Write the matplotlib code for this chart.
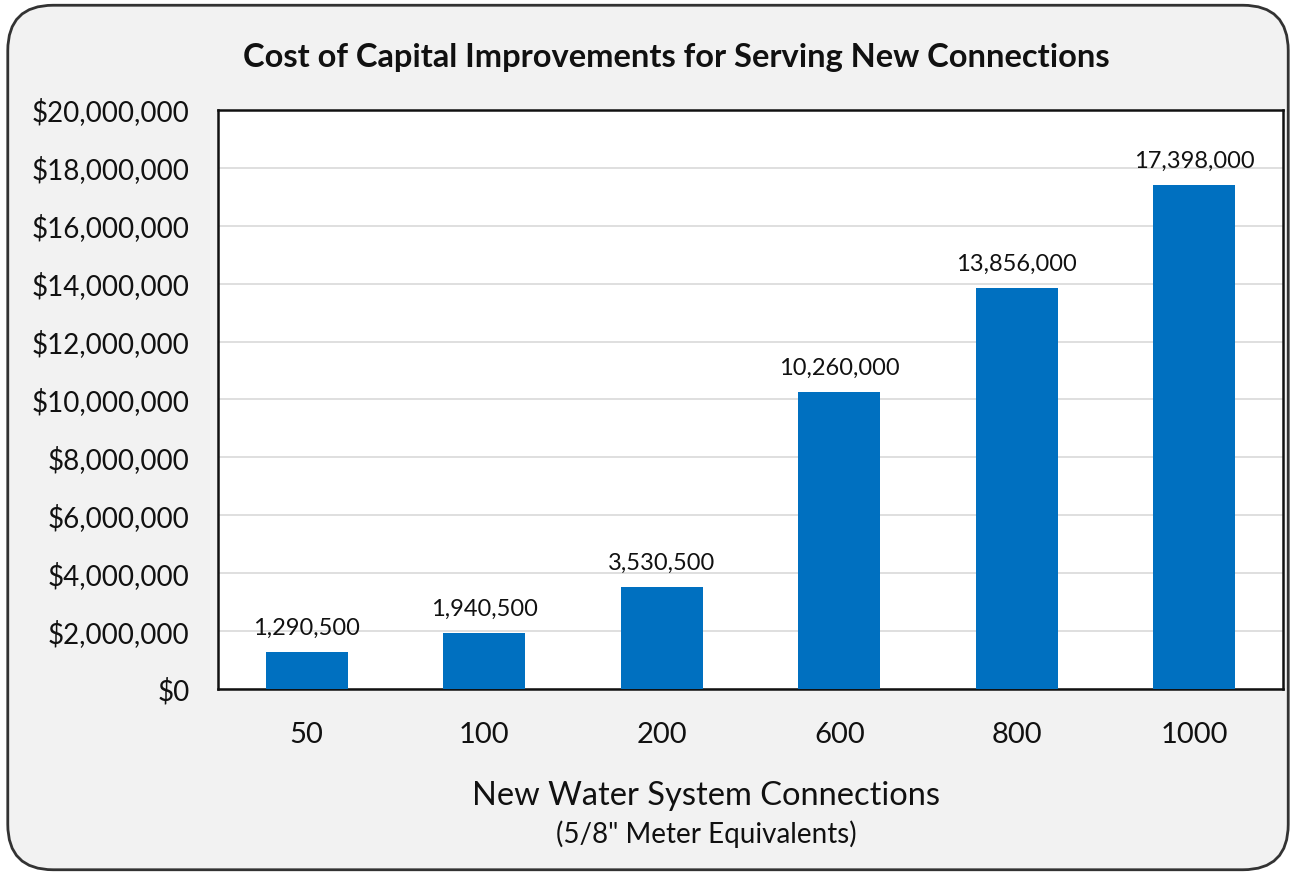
import matplotlib.pyplot as plt
from matplotlib.patches import FancyBboxPatch
from matplotlib.ticker import FuncFormatter

categories = ['50', '100', '200', '600', '800', '1000']
costs = [1290500, 1940500, 3530500, 10260000, 13856000, 17398000]

plt.rcParams['font.family'] = ['Lato', 'DejaVu Sans']

fig = plt.figure(figsize=(12.96, 8.75), dpi=100)
fig.patch.set_facecolor('white')

# rounded frame behind everything
frame = FancyBboxPatch((0.006, 0.006), 0.988, 0.988,
                       boxstyle='round,pad=0,rounding_size=0.035',
                       transform=fig.transFigure, facecolor='#f2f2f2',
                       edgecolor='#333333', linewidth=2, zorder=-10,
                       mutation_aspect=1296 / 875)
fig.patches.append(frame)

ax = fig.add_axes([0.1682, 0.2126, 0.8218, 0.6617])
ax.set_facecolor('white')

x = range(len(categories))
ax.bar(x, costs, width=0.46, color='#0070c0', zorder=3)
for xi, v in zip(x, costs):
    ax.text(xi, v + 450000, f'{v:,}', ha='center', va='bottom',
            fontsize=17, color='#111111')

ax.set_xlim(-0.5, len(categories) - 0.5)
ax.set_ylim(0, 20000000)
ax.set_yticks(range(0, 20000001, 2000000))
ax.yaxis.set_major_formatter(FuncFormatter(lambda v, p: f'${int(v):,}'))
ax.set_xticks(list(x))
ax.set_xticklabels(categories)
ax.tick_params(axis='both', length=0, colors='#111111')
ax.tick_params(axis='x', pad=24, labelsize=21)
ax.tick_params(axis='y', pad=20.5, labelsize=20)
ax.grid(axis='y', color='#d9d9d9', linewidth=1.2, zorder=0)
for s in ax.spines.values():
    s.set_color('#111111')
    s.set_linewidth(1.8)

fig.text(0.522, 0.934, 'Cost of Capital Improvements for Serving New Connections',
         ha='center', va='center', fontsize=23.5, fontweight='bold', color='#111111')
fig.text(0.545, 0.090, 'New Water System Connections', ha='center', va='center',
         fontsize=23.5, color='#111111')
fig.text(0.545, 0.047, '(5/8" Meter Equivalents)', ha='center', va='center',
         fontsize=20, color='#111111')

fig.savefig('out.png', dpi=100)
